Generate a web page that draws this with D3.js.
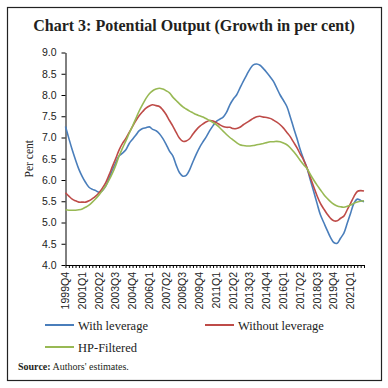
<!DOCTYPE html>
<html>
<head>
<meta charset="utf-8">
<script src="https://cdn.jsdelivr.net/npm/d3@7"></script>
<style>
  body { margin: 0; background: #fff; }
  svg { display: block; }
</style>
</head>
<body>
<div id="chart"></div>
<script>
// quarters 1999Q4 .. 2022Q1
const quarters = [];
for (let yr = 1999, q = 4; quarters.length < 90; ) {
    quarters.push(`${yr}Q${q}`);
    q++;
    if (q > 4) { q = 1; yr++; }
}

const tickLabels = ['1999Q4', '2001Q1', '2002Q2', '2003Q3', '2004Q4', '2006Q1', '2007Q2', '2008Q3', '2009Q4',
    '2011Q1', '2012Q2', '2013Q3', '2014Q4', '2016Q1', '2017Q2', '2018Q3', '2019Q4', '2021Q1'];

const yTicks = [4.0, 4.5, 5.0, 5.5, 6.0, 6.5, 7.0, 7.5, 8.0, 8.5, 9.0];

const withLeverage = [
    7.26, 6.98, 6.71, 6.47, 6.25, 6.08, 5.94, 5.83, 5.78, 5.75,
    5.71, 5.75, 5.86, 6.04, 6.24, 6.41, 6.57, 6.63, 6.71, 6.86,
    6.96, 7.06, 7.16, 7.21, 7.23, 7.25, 7.19, 7.16, 7.09, 6.98,
    6.84, 6.68, 6.57, 6.35, 6.17, 6.09, 6.11, 6.24, 6.43, 6.61,
    6.77, 6.90, 7.02, 7.16, 7.28, 7.38, 7.43, 7.48, 7.59, 7.77,
    7.90, 8.00, 8.16, 8.32, 8.47, 8.61, 8.71, 8.73, 8.70, 8.62,
    8.53, 8.43, 8.32, 8.16, 8.00, 7.87, 7.73, 7.49, 7.23, 6.98,
    6.71, 6.49, 6.28, 6.00, 5.73, 5.45, 5.18, 5.00, 4.82, 4.65,
    4.53, 4.51, 4.63, 4.75, 4.98, 5.22, 5.45, 5.55, 5.52, 5.49
];

const withoutLeverage = [
    5.70, 5.62, 5.55, 5.51, 5.48, 5.48, 5.48, 5.51, 5.56, 5.62,
    5.70, 5.81, 5.94, 6.12, 6.32, 6.51, 6.71, 6.86, 6.98, 7.12,
    7.26, 7.40, 7.52, 7.61, 7.69, 7.74, 7.77, 7.75, 7.73, 7.65,
    7.54, 7.40, 7.27, 7.12, 6.98, 6.91, 6.92, 6.97, 7.08, 7.18,
    7.26, 7.32, 7.37, 7.40, 7.39, 7.35, 7.30, 7.26, 7.24, 7.24,
    7.21, 7.21, 7.24, 7.30, 7.35, 7.40, 7.45, 7.49, 7.50, 7.48,
    7.47, 7.45, 7.41, 7.36, 7.30, 7.22, 7.12, 7.02, 6.89, 6.76,
    6.61, 6.47, 6.29, 6.06, 5.84, 5.63, 5.45, 5.32, 5.20, 5.10,
    5.04, 5.04, 5.10, 5.15, 5.30, 5.45, 5.61, 5.73, 5.75, 5.74
];

const hpFiltered = [
    5.30, 5.29, 5.29, 5.29, 5.30, 5.32, 5.36, 5.41, 5.48, 5.56,
    5.65, 5.75, 5.86, 6.00, 6.16, 6.35, 6.57, 6.75, 6.92, 7.10,
    7.27, 7.45, 7.63, 7.78, 7.92, 8.03, 8.10, 8.14, 8.16, 8.14,
    8.10, 8.05, 7.95, 7.87, 7.79, 7.72, 7.67, 7.62, 7.58, 7.54,
    7.51, 7.48, 7.44, 7.40, 7.35, 7.30, 7.23, 7.15, 7.07, 7.00,
    6.94, 6.88, 6.83, 6.81, 6.80, 6.80, 6.81, 6.83, 6.84, 6.86,
    6.88, 6.90, 6.90, 6.91, 6.90, 6.87, 6.83, 6.76, 6.67, 6.57,
    6.46, 6.36, 6.27, 6.13, 6.00, 5.88, 5.77, 5.66, 5.57, 5.49,
    5.43, 5.39, 5.37, 5.36, 5.38, 5.41, 5.45, 5.48, 5.50, 5.51
];

const series = [
    { name: 'With leverage', values: withLeverage, color: '#4a7ebb' },
    { name: 'Without leverage', values: withoutLeverage, color: '#be4b48' },
    { name: 'HP-Filtered', values: hpFiltered, color: '#98b954' }
];

const W = 388, H = 388;
const plot = { left: 65.5, right: 364, top: 52.5, bottom: 265 };
const serif = "'Liberation Serif', 'DejaVu Serif', serif";
const sans = "'Liberation Sans', Arial, sans-serif";

const svg = d3.select('#chart').append('svg').attr('width', W).attr('height', H);

svg.append('rect')
    .attr('x', 7.5).attr('y', 7.5).attr('width', 374).attr('height', 373)
    .attr('fill', 'none').attr('stroke', '#222').attr('stroke-width', 1.2);

svg.append('text')
    .attr('x', 194).attr('y', 31)
    .attr('text-anchor', 'middle')
    .attr('font-family', serif).attr('font-weight', 'bold').attr('font-size', 16)
    .attr('fill', '#231f20')
    .text('Chart 3: Potential Output (Growth in per cent)');

const x = d3.scalePoint().domain(quarters).range([plot.left, plot.right]);
const y = d3.scaleLinear().domain([4, 9]).range([plot.bottom, plot.top]);

// y axis
const yAxis = svg.append('g')
    .attr('transform', `translate(${plot.left},0)`)
    .call(d3.axisLeft(y).tickValues(yTicks).tickFormat(d3.format('.1f')).tickSize(4).tickSizeOuter(0).tickPadding(5));
yAxis.select('.domain').attr('stroke', '#000');
yAxis.selectAll('text').attr('font-family', sans).attr('font-size', 10.5).attr('fill', '#222');

// x axis: small tick on each quarter
const xAxis = svg.append('g')
    .attr('transform', `translate(0,${plot.bottom})`)
    .call(d3.axisBottom(x).tickSize(3).tickSizeOuter(0).tickFormat(''));
xAxis.select('.domain').attr('stroke', '#000');

svg.append('g')
    .selectAll('text')
    .data(tickLabels)
    .enter()
    .append('text')
    .attr('transform', d => `translate(${x(d) + 3.5},${plot.bottom + 7}) rotate(-90)`)
    .attr('text-anchor', 'end')
    .attr('font-family', sans).attr('font-size', 10.5).attr('fill', '#222')
    .text(d => d);

svg.append('text')
    .attr('transform', `translate(33,${(plot.top + plot.bottom) / 2}) rotate(-90)`)
    .attr('text-anchor', 'middle')
    .attr('font-family', serif).attr('font-size', 11.5).attr('fill', '#222')
    .text('Per cent');

const line = d3.line()
    .x((d, i) => x(quarters[i]))
    .y(d => y(d))
    .curve(d3.curveCatmullRom);

svg.append('g')
    .selectAll('path')
    .data(series)
    .enter()
    .append('path')
    .attr('d', d => line(d.values))
    .attr('fill', 'none')
    .attr('stroke', d => d.color)
    .attr('stroke-width', 1.6);

// legend
const legendPos = [[45, 325], [205, 325], [45, 347]];
const legend = svg.append('g')
    .selectAll('g')
    .data(series)
    .enter()
    .append('g')
    .attr('transform', (d, i) => `translate(${legendPos[i][0]},${legendPos[i][1]})`);
legend.append('line')
    .attr('x1', 0).attr('x2', 29).attr('y1', 0).attr('y2', 0)
    .attr('stroke', d => d.color).attr('stroke-width', 2);
legend.append('text')
    .attr('x', 33).attr('y', 4.5)
    .attr('font-family', serif).attr('font-size', 12.5).attr('fill', '#222')
    .text(d => d.name);

const src = svg.append('text')
    .attr('x', 18).attr('y', 370)
    .attr('font-family', serif).attr('font-size', 10).attr('fill', '#231f20');
src.append('tspan').attr('font-weight', 'bold').text('Source:');
src.append('tspan').text(' Authors\' estimates.');
</script>
</body>
</html>
